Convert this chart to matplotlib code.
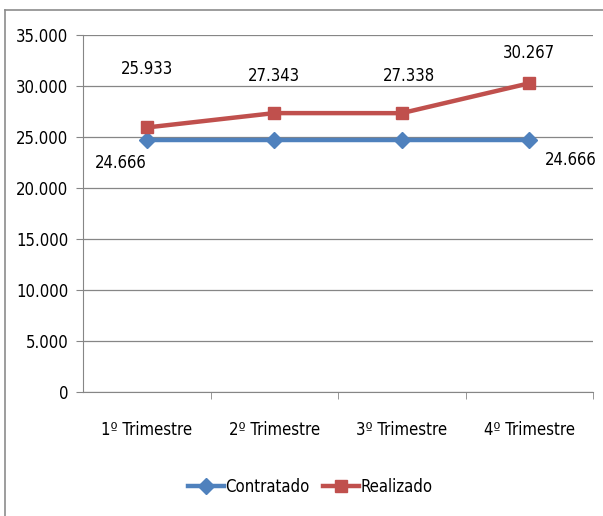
import matplotlib.pyplot as plt
from matplotlib.lines import Line2D

plt.rcParams['font.family'] = ['DejaVu Sans']
plt.rcParams['font.stretch'] = 'condensed'

categorias = ['1º Trimestre', '2º Trimestre', '3º Trimestre', '4º Trimestre']
contratado = [24666, 24666, 24666, 24666]
realizado = [25933, 27343, 27338, 30267]

rotulos_realizado = ['25.933', '27.343', '27.338', '30.267']
rotulos_contratado = ['24.666', '', '', '24.666']
yticks = [0, 5000, 10000, 15000, 20000, 25000, 30000, 35000]
ytick_labels = ['0', '5.000', '10.000', '15.000', '20.000', '25.000', '30.000', '35.000']

azul = '#4F81BD'
vermelho = '#C0504D'
cinza = '#868686'
fs = 12

W, H = 603, 516
fig = plt.figure(figsize=(W / 100, H / 100), dpi=100)
ax = fig.add_axes([83 / W, 1 - 392 / H, 510 / W, 357 / H])

x = range(len(categorias))
ax.plot(x, contratado, color=azul, lw=3.2, marker='D', ms=8, zorder=3)
ax.plot(x, realizado, color=vermelho, lw=3.2, marker='s', ms=9, zorder=4)

# rotulos de dados (offsets em pontos)
desloc_r = [(0, 42), (0, 27), (5, 27), (0, 22)]
for i, r in enumerate(rotulos_realizado):
    ax.annotate(r, (i, realizado[i]), xytext=desloc_r[i], textcoords='offset points',
                ha='center', va='center', fontsize=fs)
desloc_c = [(-19, -16), (0, 0), (0, 0), (30, -14)]
for i, r in enumerate(rotulos_contratado):
    if r:
        ax.annotate(r, (i, contratado[i]), xytext=desloc_c[i], textcoords='offset points',
                    ha='center', va='center', fontsize=fs)

ax.set_xlim(-0.5, 3.5)
ax.set_ylim(0, 35000)
ax.set_yticks(yticks)
ax.set_yticklabels(ytick_labels, fontsize=fs)
ax.set_xticks([0, 1, 2, 3])
ax.set_xticklabels(categorias, fontsize=fs)
ax.set_xticks([0.5, 1.5, 2.5, 3.5], minor=True)
ax.tick_params(axis='x', which='major', length=0, pad=21)
ax.tick_params(axis='x', which='minor', length=5, color=cinza, direction='out')
ax.tick_params(axis='y', length=5, color=cinza, pad=5.5)

ax.grid(axis='y', color=cinza, lw=0.9)
ax.set_axisbelow(True)
for s in ['top', 'right']:
    ax.spines[s].set_visible(False)
ax.spines['left'].set_color(cinza)
ax.spines['bottom'].set_color(cinza)

# legenda
handles = [Line2D([], [], color=azul, lw=3.2, marker='D', ms=8),
           Line2D([], [], color=vermelho, lw=3.2, marker='s', ms=9)]
fig.legend(handles, ['Contratado', 'Realizado'], loc='center', bbox_to_anchor=(310 / W, 1 - 487 / H),
           ncol=2, frameon=False, fontsize=fs, handlelength=2.2, handletextpad=0.05,
           columnspacing=0.8)

# borda do grafico
fig.add_artist(Line2D([5 / W, 5 / W], [0, 1 - 10 / H], color='#8c8c8c', lw=1.2))
fig.add_artist(Line2D([5 / W, 1], [1 - 10 / H, 1 - 10 / H], color='#8c8c8c', lw=1.2))

fig.savefig('out.png', dpi=100)
